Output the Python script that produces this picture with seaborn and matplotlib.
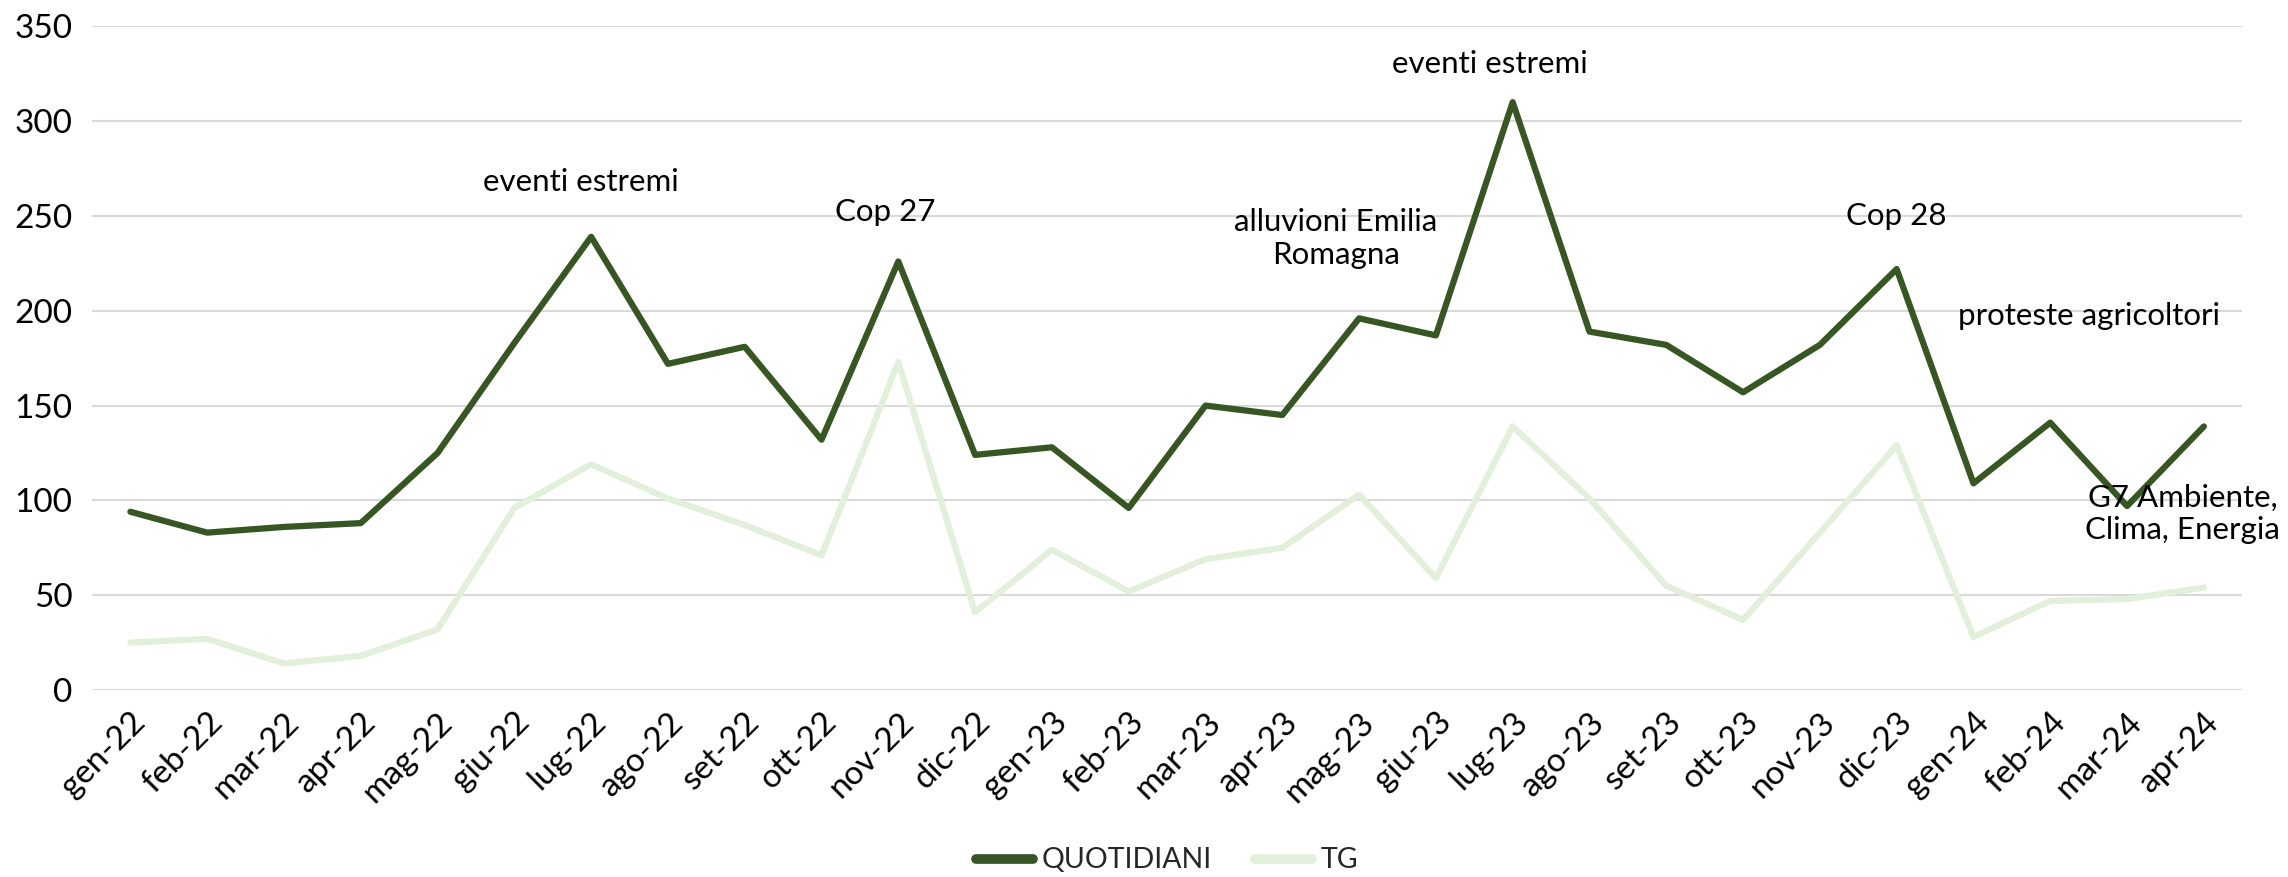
import pandas as pd
import matplotlib.pyplot as plt
import seaborn as sns

# monthly counts
months = ["gen-22", "feb-22", "mar-22", "apr-22", "mag-22", "giu-22", "lug-22",
          "ago-22", "set-22", "ott-22", "nov-22", "dic-22", "gen-23", "feb-23",
          "mar-23", "apr-23", "mag-23", "giu-23", "lug-23", "ago-23", "set-23",
          "ott-23", "nov-23", "dic-23", "gen-24", "feb-24", "mar-24", "apr-24"]
quotidiani = [94, 83, 86, 88, 125, 183, 239, 172, 181, 132, 226, 124, 128, 96,
              150, 145, 196, 187, 310, 189, 182, 157, 182, 222, 109, 141, 97, 139]
tg = [25, 27, 14, 18, 32, 96, 119, 101, 87, 71, 173, 41, 74, 52,
      69, 75, 103, 59, 139, 101, 55, 37, 83, 129, 28, 47, 48, 54]

# event notes: text, x (category index), y
notes = [
    ("eventi estremi", 5.87, 268),
    ("Cop 27", 9.83, 252),
    ("alluvioni Emilia\nRomagna", 15.7, 238),
    ("eventi estremi", 17.7, 330),
    ("Cop 28", 23.0, 250),
    ("proteste agricoltori", 25.5, 197),
    ("G7 Ambiente,\nClima, Energia", 26.72, 93),
]

sns.set_style("white")
plt.rcParams['font.family'] = ['Lato', 'DejaVu Sans']

df = pd.DataFrame({"idx": range(len(months)), "QUOTIDIANI": quotidiani, "TG": tg})
long = df.melt(id_vars="idx", var_name="serie", value_name="valore")

fig = plt.figure(figsize=(22.88, 8.77), dpi=100)
ax = fig.add_axes([0.0402, 0.2132, 0.9398, 0.7568])

sns.lineplot(data=long, x="idx", y="valore", hue="serie",
             palette={"QUOTIDIANI": "#375623", "TG": "#E2EFDA"},
             linewidth=4.5, ax=ax)

ax.set_xlim(-0.5, len(months) - 0.5)
ax.set_ylim(0, 350)
ax.set_yticks(range(0, 351, 50))
ax.yaxis.grid(True, color="#D9D9D9", linewidth=1.5)
ax.set_axisbelow(True)
for s in ax.spines.values():
    s.set_visible(False)
ax.set_xticks(range(len(months)))
ax.set_xticklabels(months, rotation=45, ha="right", rotation_mode="anchor")
ax.tick_params(axis="both", labelsize=24, colors="#000000", length=0)
ax.tick_params(axis="x", pad=12)
ax.tick_params(axis="y", pad=14)
ax.set_xlabel("")
ax.set_ylabel("")

for txt, x, y in notes:
    ax.text(x, y, txt, ha="center", va="center", fontsize=22.5, color="#000000",
            linespacing=1.2)

leg = ax.legend(loc="lower center", bbox_to_anchor=(0.5, -0.315), ncol=2,
                frameon=False, fontsize=20.5, handlelength=2.0, columnspacing=1.5,
                handletextpad=0.3)
for line in leg.get_lines():
    line.set_linewidth(7)

fig.savefig("out.png", dpi=100)
